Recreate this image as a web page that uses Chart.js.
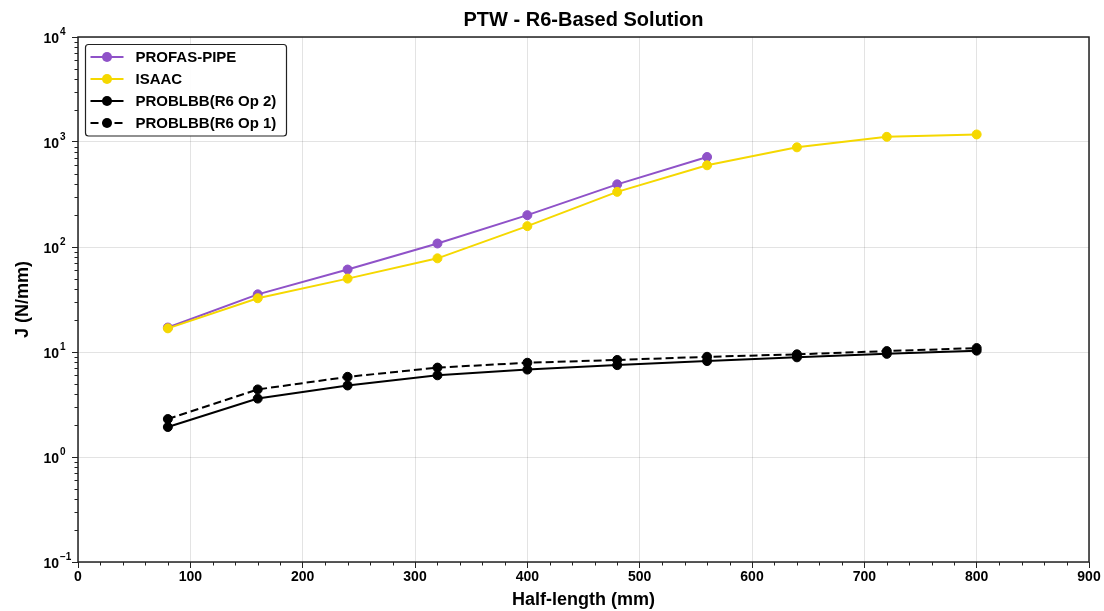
<!DOCTYPE html>
<html>
<head>
<meta charset="utf-8">
<script src="https://cdn.jsdelivr.net/npm/chart.js@4/dist/chart.umd.min.js"></script>
<style>
    html, body { margin: 0; padding: 0; background: #fff; }
</style>
</head>
<body>
<canvas id="chart" width="1104" height="611"></canvas>
<script>
    // data
    var halfLength = [80, 160, 240, 320, 400, 480, 560, 640, 720, 800];
    var profasPipe = [17.1, 35.4, 61, 108, 201, 395, 720];
    var isaac = [16.8, 32.5, 50, 78, 158, 335, 600, 890, 1120, 1180];
    var problbbOp2 = [1.93, 3.6, 4.8, 6.0, 6.8, 7.5, 8.2, 8.9, 9.6, 10.3];
    var problbbOp1 = [2.3, 4.4, 5.8, 7.1, 7.9, 8.4, 9.0, 9.5, 10.2, 10.9];

    var xTickLabels = [0, 100, 200, 300, 400, 500, 600, 700, 800, 900];
    var yDecades = [-1, 0, 1, 2, 3, 4];
    var yExponents = ['\u2212' + '1', '0', '1', '2', '3', '4'];

    var fontFamily = '"Liberation Sans", Arial, sans-serif';
    var gridGray = 'rgba(0,0,0,0.11)';
    var axisColor = '#222';

    function toPoints(xs, ys) {
        var pts = [];
        for (var i = 0; i < ys.length; i++) {
            pts.push({ x: xs[i], y: ys[i] });
        }
        return pts;
    }

    function isDecade(v) {
        var l = Math.log10(v);
        return Math.abs(l - Math.round(l)) < 1e-9;
    }

    function isMajorX(v) {
        return xTickLabels.indexOf(v) !== -1;
    }

    // minor ticks, exponents, frame and the boxed legend
    var framePlugin = {
        id: 'frame',
        afterDraw: function (chart) {
            var ctx = chart.ctx;
            var a = chart.chartArea;
            var xs = chart.scales.x, ys = chart.scales.y;

            ctx.save();
            ctx.strokeStyle = axisColor;
            ctx.lineWidth = 1;
            ctx.beginPath();
            xs.ticks.forEach(function (t) {
                if (!isMajorX(t.value)) {
                    var px = Math.round(xs.getPixelForValue(t.value)) + 0.5;
                    ctx.moveTo(px, a.bottom);
                    ctx.lineTo(px, a.bottom + 3.5);
                }
            });
            ys.ticks.forEach(function (t) {
                if (!isDecade(t.value)) {
                    var py = Math.round(ys.getPixelForValue(t.value)) + 0.5;
                    ctx.moveTo(a.left, py);
                    ctx.lineTo(a.left - 3.5, py);
                }
            });
            ctx.stroke();

            // superscript exponents next to the "10" tick labels
            ctx.fillStyle = '#000';
            ctx.font = 'bold 10px ' + fontFamily;
            ctx.textAlign = 'left';
            ctx.textBaseline = 'middle';
            yDecades.forEach(function (e, i) {
                var py = ys.getPixelForValue(Math.pow(10, e));
                ctx.fillText(yExponents[i], a.left - 18, py - 4.5);
            });

            ctx.lineWidth = 1.5;
            ctx.strokeRect(a.left, a.top, a.right - a.left, a.bottom - a.top);

            // legend
            var lx = a.left + 7.5, ly = a.top + 7.5, lw = 201, lh = 91.5, r = 3;
            ctx.beginPath();
            ctx.moveTo(lx + r, ly);
            ctx.arcTo(lx + lw, ly, lx + lw, ly + lh, r);
            ctx.arcTo(lx + lw, ly + lh, lx, ly + lh, r);
            ctx.arcTo(lx, ly + lh, lx, ly, r);
            ctx.arcTo(lx, ly, lx + lw, ly, r);
            ctx.closePath();
            ctx.fillStyle = 'rgba(255,255,255,0.9)';
            ctx.fill();
            ctx.lineWidth = 1.2;
            ctx.strokeStyle = axisColor;
            ctx.stroke();

            ctx.font = 'bold 15px ' + fontFamily;
            ctx.textBaseline = 'middle';
            ctx.textAlign = 'left';
            chart.data.datasets.forEach(function (ds, i) {
                var y = ly + 12.5 + i * 22;
                ctx.strokeStyle = ds.borderColor;
                ctx.lineWidth = ds.borderWidth;
                ctx.setLineDash(ds.borderDash || []);
                ctx.beginPath();
                ctx.moveTo(lx + 5, y);
                ctx.lineTo(lx + 38, y);
                ctx.stroke();
                ctx.setLineDash([]);
                ctx.beginPath();
                ctx.arc(lx + 21.5, y, 5, 0, Math.PI * 2);
                ctx.fillStyle = ds.pointBackgroundColor;
                ctx.fill();
                ctx.fillStyle = '#000';
                ctx.fillText(ds.label, lx + 50, y + 1);
            });
            ctx.restore();
        }
    };

    function makeDataset(label, ys, color, dash, order) {
        return {
            label: label,
            data: toPoints(halfLength, ys),
            borderColor: color,
            backgroundColor: color,
            pointBackgroundColor: color,
            pointBorderColor: color,
            pointBorderWidth: 1,
            pointRadius: 4.5,
            borderWidth: 2,
            borderDash: dash,
            fill: false,
            tension: 0,
            order: order
        };
    }

    var chart = new Chart(document.getElementById('chart'), {
        type: 'line',
        data: {
            datasets: [
                makeDataset('PROFAS-PIPE', profasPipe, '#8f52c8', [], 4),
                makeDataset('ISAAC', isaac, '#f5d800', [], 3),
                makeDataset('PROBLBB(R6 Op 2)', problbbOp2, '#000000', [], 2),
                makeDataset('PROBLBB(R6 Op 1)', problbbOp1, '#000000', [8, 4], 1)
            ]
        },
        options: {
            responsive: false,
            animation: false,
            devicePixelRatio: 1,
            layout: { padding: { top: 0, left: 0, right: 15, bottom: 0 } },
            plugins: {
                legend: { display: false },
                tooltip: { enabled: false },
                title: {
                    display: true,
                    text: 'PTW - R6-Based Solution',
                    fullSize: false,
                    color: '#000',
                    font: { family: fontFamily, size: 20, weight: 'bold', lineHeight: 1 },
                    padding: { top: 10, bottom: 7 }
                }
            },
            scales: {
                x: {
                    type: 'linear',
                    min: 0,
                    max: 900,
                    afterBuildTicks: function (scale) {
                        var ticks = [];
                        for (var v = 0; v <= 900; v += 20) ticks.push({ value: v });
                        scale.ticks = ticks;
                    },
                    afterFit: function (scale) { scale.height = 49; },
                    ticks: {
                        autoSkip: false,
                        maxRotation: 0,
                        padding: 1,
                        color: '#000',
                        font: { family: fontFamily, size: 14, weight: 'bold' },
                        callback: function (v) { return isMajorX(v) ? String(v) : ''; }
                    },
                    grid: {
                        color: function (c) { return c.tick && isMajorX(c.tick.value) ? gridGray : 'rgba(0,0,0,0)'; },
                        tickColor: function (c) { return c.tick && isMajorX(c.tick.value) ? axisColor : 'rgba(0,0,0,0)'; },
                        tickLength: 6,
                        lineWidth: 1
                    },
                    border: { display: false },
                    title: {
                        display: true,
                        text: 'Half-length (mm)',
                        color: '#000',
                        font: { family: fontFamily, size: 18, weight: 'bold' },
                        padding: 0
                    }
                },
                y: {
                    type: 'logarithmic',
                    min: 0.1,
                    max: 10000,
                    afterBuildTicks: function (scale) {
                        var ticks = [];
                        for (var e = -1; e < 4; e++) {
                            for (var m = 1; m < 10; m++) {
                                ticks.push({ value: parseFloat((m * Math.pow(10, e)).toPrecision(3)) });
                            }
                        }
                        ticks.push({ value: 10000 });
                        scale.ticks = ticks;
                    },
                    afterFit: function (scale) { scale.width = 78; },
                    ticks: {
                        autoSkip: false,
                        padding: 13,
                        labelOffset: 2,
                        color: '#000',
                        font: { family: fontFamily, size: 14, weight: 'bold' },
                        callback: function (v) { return isDecade(v) ? '10' : ''; }
                    },
                    grid: {
                        color: function (c) { return c.tick && isDecade(c.tick.value) ? gridGray : 'rgba(0,0,0,0)'; },
                        tickColor: function (c) { return c.tick && isDecade(c.tick.value) ? axisColor : 'rgba(0,0,0,0)'; },
                        tickLength: 6,
                        lineWidth: 1
                    },
                    border: { display: false },
                    title: {
                        display: true,
                        text: 'J (N/mm)',
                        color: '#000',
                        font: { family: fontFamily, size: 18, weight: 'bold' },
                        padding: { top: 12, bottom: 12 }
                    }
                }
            }
        },
        plugins: [framePlugin]
    });
</script>
</body>
</html>
